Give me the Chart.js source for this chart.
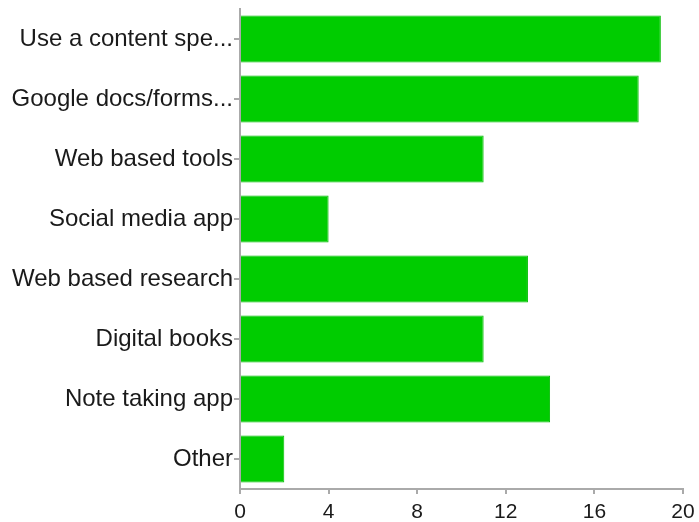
<!DOCTYPE html>
<html>
<head>
<meta charset="utf-8">
<script src="https://cdn.jsdelivr.net/npm/chart.js@4/dist/chart.umd.min.js"></script>
<style>
  html, body { margin: 0; padding: 0; background: #fff; }
  #wrap { width: 699px; height: 522px; }
</style>
</head>
<body>
<div id="wrap"><canvas id="c" width="699" height="522"></canvas></div>
<script>
const categories = [
    'Use a content spe...',
    'Google docs/forms...',
    'Web based tools',
    'Social media app',
    'Web based research',
    'Digital books',
    'Note taking app',
    'Other'
];
const counts = [19, 18, 11, 4, 13, 11, 14, 2];
const xTicks = [0, 4, 8, 12, 16, 20];

Chart.defaults.font.family = "'Liberation Sans', Arial, sans-serif";
Chart.defaults.font.size = 21;
Chart.defaults.color = '#1a1a1a';

new Chart(document.getElementById('c'), {
    type: 'bar',
    data: {
        labels: categories,
        datasets: [{
            data: counts,
            backgroundColor: '#00cc00',
            borderColor: '#00bb00',
            borderWidth: 1,
            barPercentage: 0.78,
            categoryPercentage: 1
        }]
    },
    options: {
        indexAxis: 'y',
        responsive: false,
        animation: false,
        layout: {
            padding: { top: 9, right: 16, left: 0, bottom: 0 }
        },
        plugins: {
            legend: { display: false },
            tooltip: { enabled: false }
        },
        scales: {
            x: {
                min: 0,
                max: 20,
                afterBuildTicks: (scale) => {
                    scale.ticks = xTicks.map((v) => ({ value: v }));
                },
                afterFit: (scale) => {
                    scale.height = 33;
                    scale.paddingLeft = 0;
                    scale.paddingRight = 0;
                },
                border: { color: '#aaa', width: 2 },
                grid: {
                    drawOnChartArea: false,
                    color: '#aaa',
                    tickLength: 5,
                    lineWidth: 2
                },
                ticks: { padding: 6, maxRotation: 0, font: { size: 21 } }
            },
            y: {
                afterFit: (scale) => {
                    scale.width = 240;
                    // keep labels from pushing the plot down
                    scale.paddingTop = 0;
                    scale.paddingBottom = 0;
                },
                border: { color: '#aaa', width: 2 },
                grid: {
                    offset: false,
                    drawOnChartArea: false,
                    color: '#aaa',
                    tickLength: 6,
                    lineWidth: 2
                },
                ticks: { padding: 1, autoSkip: false, font: { size: 24 } }
            }
        }
    }
});
</script>
</body>
</html>
